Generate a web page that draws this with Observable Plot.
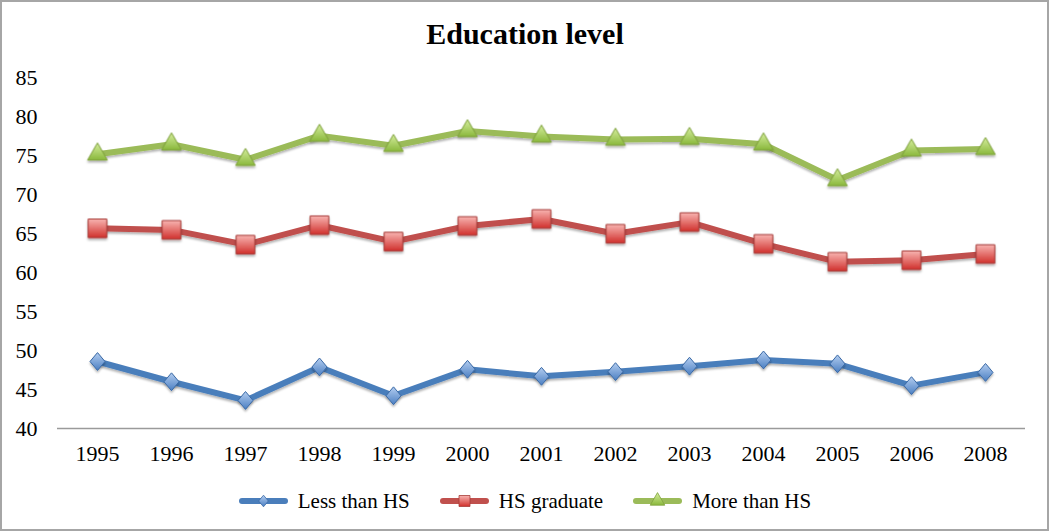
<!DOCTYPE html>
<html>
<head>
<meta charset="utf-8">
<script src="https://cdn.jsdelivr.net/npm/d3@7"></script>
<script src="https://cdn.jsdelivr.net/npm/@observablehq/plot@0.6"></script>
<style>
  body { margin: 0; background: #fff; font-family: "Liberation Serif", serif; }
  #frame { position: absolute; left: 0; top: 0; width: 1049px; height: 531px; box-sizing: border-box; border: 2px solid #a6a6a6; pointer-events: none; }
  #title { position: absolute; left: 0; top: 19px; width: 1050px; text-align: center; font-size: 30px; font-weight: bold; line-height: 30px; color: #000; }
  #chart { position: absolute; left: 0; top: 60px; }
  #legend { position: absolute; left: 0; top: 489px; width: 1050px; display: flex; justify-content: center; align-items: center; font-size: 21px; line-height: 24px; color: #000; }
  .item { display: flex; align-items: center; margin: 0 15px; }
  .item svg { margin-right: 10px; }
  #defs { position: absolute; width: 0; height: 0; }
</style>
</head>
<body>
<svg id="defs" width="0" height="0">
  <defs>
    <linearGradient id="gBlue" x1="0" y1="0" x2="0" y2="1">
      <stop offset="0" stop-color="#b3cdf0"/><stop offset="1" stop-color="#4b7fc2"/>
    </linearGradient>
    <linearGradient id="gRed" x1="0" y1="0" x2="0" y2="1">
      <stop offset="0" stop-color="#f8b4b1"/><stop offset="1" stop-color="#d0302c"/>
    </linearGradient>
    <linearGradient id="gGreen" x1="0" y1="0" x2="0" y2="1">
      <stop offset="0" stop-color="#d6ee9e"/><stop offset="1" stop-color="#8ab83c"/>
    </linearGradient>
    <filter id="shadow" x="-20%" y="-20%" width="140%" height="160%">
      <feDropShadow dx="0" dy="2" stdDeviation="1.3" flood-color="#000" flood-opacity="0.3"/>
    </filter>
  </defs>
</svg>
<div id="title">Education level</div>
<div id="chart"></div>
<div id="legend"></div>
<div id="frame"></div>
<script>
// ---- data ----
const years = ["1995","1996","1997","1998","1999","2000","2001","2002","2003","2004","2005","2006","2008"];
const lessThanHS = [48.6, 46.0, 43.6, 47.9, 44.2, 47.6, 46.7, 47.3, 48.0, 48.8, 48.3, 45.5, 47.2];
const hsGraduate = [65.7, 65.5, 63.6, 66.1, 64.0, 66.0, 66.9, 65.0, 66.5, 63.7, 61.4, 61.6, 62.4];
const moreThanHS = [75.2, 76.5, 74.5, 77.6, 76.3, 78.2, 77.5, 77.1, 77.2, 76.5, 71.9, 75.7, 75.9];
const seriesNames = ["Less than HS", "HS graduate", "More than HS"];
const yTicks = [40, 45, 50, 55, 60, 65, 70, 75, 80, 85];

// ---- styles ----
const diamond = {
  draw(context, size) {
    const s = Math.sqrt(size);
    const w = s * 0.53, h = s * 0.63;
    context.moveTo(0, -h); context.lineTo(w, 0); context.lineTo(0, h); context.lineTo(-w, 0); context.closePath();
  }
};
const styles = [
  { line: "#4a7ebb", fill: "url(#gBlue)", edge: "#3b6aa6", symbol: diamond, r: 8, lr: 5.2 },
  { line: "#c0504d", fill: "url(#gRed)", edge: "#a63c39", symbol: "square", r: 10.5, lr: 6.2 },
  { line: "#9bbb59", fill: "url(#gGreen)", edge: "#7fa23c", symbol: "triangle", r: 7.3, lr: 5.4 }
];
const values = [lessThanHS, hsGraduate, moreThanHS];
const series = seriesNames.map((name, i) => ({
  name,
  ...styles[i],
  rows: years.map((year, j) => ({ year, value: values[i][j], series: name }))
}));

const chart = Plot.plot({
  width: 1050,
  height: 420,
  marginTop: 17.5,
  marginBottom: 52,
  marginLeft: 57,
  marginRight: 25,
  style: { fontFamily: '"Liberation Serif", serif', fontSize: "22px", color: "#000", background: "transparent", overflow: "visible" },
  x: { type: "point", domain: years, padding: 0.5, label: null, tickSize: 0, tickPadding: 17 },
  y: { domain: [40, 85], ticks: yTicks, label: null, tickSize: 0, tickPadding: 20 },
  marks: [
    Plot.ruleY([40], { stroke: "#9a9a9a", strokeWidth: 1.5 }),
    ...series.flatMap(s => [
      Plot.line(s.rows, { x: "year", y: "value", stroke: s.line, strokeWidth: 6, strokeLinejoin: "round", strokeLinecap: "round" }),
      Plot.dot(s.rows, { x: "year", y: "value", symbol: s.symbol, r: s.r, fill: s.fill, stroke: s.edge, strokeWidth: 1 })
    ])
  ]
});
d3.select(chart).selectAll('g[aria-label="line"], g[aria-label="dot"]').attr("filter", "url(#shadow)");
document.getElementById("chart").appendChild(chart);

// ---- legend ----
const legend = d3.select("#legend");
series.forEach(s => {
  const item = legend.append("div").attr("class", "item");
  const sw = item.append("svg").attr("width", 49).attr("height", 20);
  sw.append("line").attr("x1", 3).attr("x2", 46).attr("y1", 10).attr("y2", 10)
    .attr("stroke", s.line).attr("stroke-width", 6).attr("stroke-linecap", "round");
  const symType = s.symbol === "square" ? d3.symbolSquare : s.symbol === "triangle" ? d3.symbolTriangle : s.symbol;
  sw.append("path").attr("transform", "translate(24.5,10)")
    .attr("d", d3.symbol(symType, s.lr * s.lr * Math.PI)())
    .attr("fill", s.fill).attr("stroke", s.edge).attr("stroke-width", 0.8);
  item.append("span").text(s.name);
});
</script>
</body>
</html>
